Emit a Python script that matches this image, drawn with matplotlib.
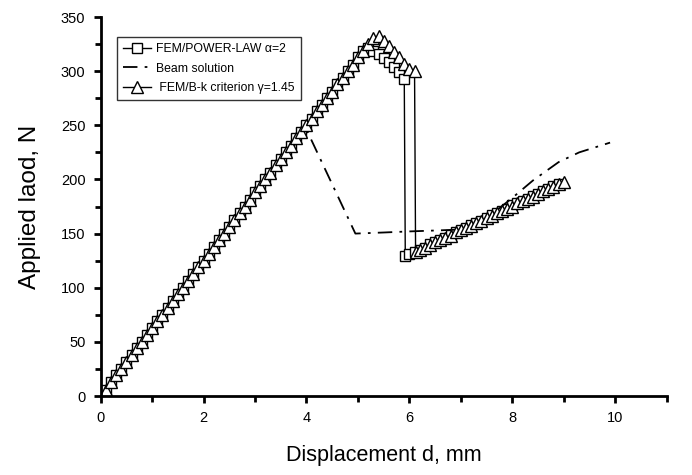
import matplotlib
matplotlib.use('Agg')
import matplotlib.pyplot as plt
from matplotlib.ticker import MultipleLocator

plt.rcParams['font.family'] = ['Liberation Sans', 'DejaVu Sans']

# rising part shared by both FEM curves (displacement mm, load N)
rise_x = [0.0, 0.1, 0.2, 0.3, 0.4, 0.5, 0.6, 0.7, 0.8, 0.9,
          1.0, 1.1, 1.2, 1.3, 1.4, 1.5, 1.6, 1.7, 1.8, 1.9,
          2.0, 2.1, 2.2, 2.3, 2.4, 2.5, 2.6, 2.7, 2.8, 2.9,
          3.0, 3.1, 3.2, 3.3, 3.4, 3.5, 3.6, 3.7, 3.8, 3.9,
          4.0, 4.1, 4.2, 4.3, 4.4, 4.5, 4.6, 4.7, 4.8, 4.9,
          5.0, 5.1, 5.2]
rise_y = [0, 6, 13, 19, 25, 31, 38, 44, 50, 56,
          63, 69, 75, 81, 88, 94, 100, 106, 113, 119,
          125, 131, 138, 144, 150, 156, 163, 169, 175, 181,
          188, 194, 200, 206, 213, 219, 225, 231, 238, 244,
          250, 256, 263, 269, 275, 281, 288, 294, 300, 306,
          313, 319, 325]

# FEM / power law, after the rising part
sq_peak_x = [5.2, 5.3, 5.4, 5.5, 5.6, 5.7, 5.8, 5.9]
sq_peak_y = [321, 319, 316, 312, 308, 304, 299, 293]
sq_tail_x = [5.92, 6.0, 6.1, 6.2, 6.3, 6.4, 6.5, 6.6, 6.7, 6.8, 6.9,
             7.0, 7.1, 7.2, 7.3, 7.4, 7.5, 7.6, 7.7, 7.8, 7.9,
             8.0, 8.1, 8.2, 8.3, 8.4, 8.5, 8.6, 8.7, 8.8, 8.9]
sq_tail_y = [129, 131, 133, 135, 137, 140, 142, 144, 146, 149, 151,
             153, 155, 158, 160, 162, 164, 167, 169, 171, 173,
             176, 178, 180, 182, 185, 187, 189, 191, 194, 196]

# FEM / B-k criterion, after the rising part
tri_peak_x = [5.3, 5.4, 5.5, 5.6, 5.7, 5.8, 5.9, 6.0, 6.1]
tri_peak_y = [331, 332, 328, 323, 318, 313, 307, 302, 300]
tri_tail_x = [6.12, 6.2, 6.3, 6.4, 6.5, 6.6, 6.7, 6.8, 6.9,
              7.0, 7.1, 7.2, 7.3, 7.4, 7.5, 7.6, 7.7, 7.8, 7.9,
              8.0, 8.1, 8.2, 8.3, 8.4, 8.5, 8.6, 8.7, 8.8, 8.9, 9.0]
tri_tail_y = [133, 135, 137, 139, 142, 144, 146, 148, 151,
              153, 155, 157, 160, 162, 164, 166, 169, 171, 173,
              175, 178, 180, 182, 184, 187, 189, 191, 193, 196, 198]

# beam solution
beam_x = [0.0, 4.0, 4.95, 5.5, 6.0, 6.6, 7.1, 7.5, 8.0, 8.4, 8.9, 9.3, 9.9]
beam_y = [0, 246, 150, 151, 152, 153, 154, 164, 183, 199, 216, 225, 234]

sq_x = rise_x[:52] + sq_peak_x + sq_tail_x
sq_y = rise_y[:52] + sq_peak_y + sq_tail_y
tri_x = rise_x + tri_peak_x + tri_tail_x
tri_y = rise_y + tri_peak_y + tri_tail_y

fig = plt.figure(figsize=(6.92, 4.75), dpi=100)
ax = fig.add_axes([0.1455, 0.1663, 0.8179, 0.7979])

ax.plot(sq_x, sq_y, color='black', lw=1, marker='s', ms=6.5,
        mfc='white', mec='black', mew=1, label='FEM/POWER-LAW α=2')
ax.plot(beam_x, beam_y, color='black', lw=1.3, dashes=(8, 4, 1.5, 4),
        label='Beam solution')
ax.plot(tri_x, tri_y, color='black', lw=1, marker='^', ms=8.5,
        mfc='white', mec='black', mew=1, label=' FEM/B-k criterion γ=1.45')

ax.set_xlim(0, 11)
ax.set_ylim(0, 350)
ax.xaxis.set_major_locator(MultipleLocator(2))
ax.xaxis.set_minor_locator(MultipleLocator(1))
ax.yaxis.set_major_locator(MultipleLocator(50))
ax.yaxis.set_minor_locator(MultipleLocator(25))

for s in ['top', 'right']:
    ax.spines[s].set_visible(False)
for s in ['left', 'bottom']:
    ax.spines[s].set_linewidth(2)

ax.tick_params(which='major', direction='out', length=5, width=2, labelsize=10.5, pad=6)
ax.tick_params(which='minor', direction='out', length=4, width=2)

ax.set_xlabel('Displacement d, mm', fontsize=15.5, labelpad=14)
ax.set_ylabel('Applied laod, N', fontsize=17.5, labelpad=14)

leg = ax.legend(loc='upper left', bbox_to_anchor=(0.029, 0.947), fontsize=8.8,
                frameon=True, fancybox=False, shadow=False, borderpad=0.5,
                handlelength=2.3, handletextpad=0.4, labelspacing=0.6,
                borderaxespad=0)
leg.get_frame().set_edgecolor('black')
leg.get_frame().set_linewidth(1)

fig.savefig('out.png', dpi=100)
